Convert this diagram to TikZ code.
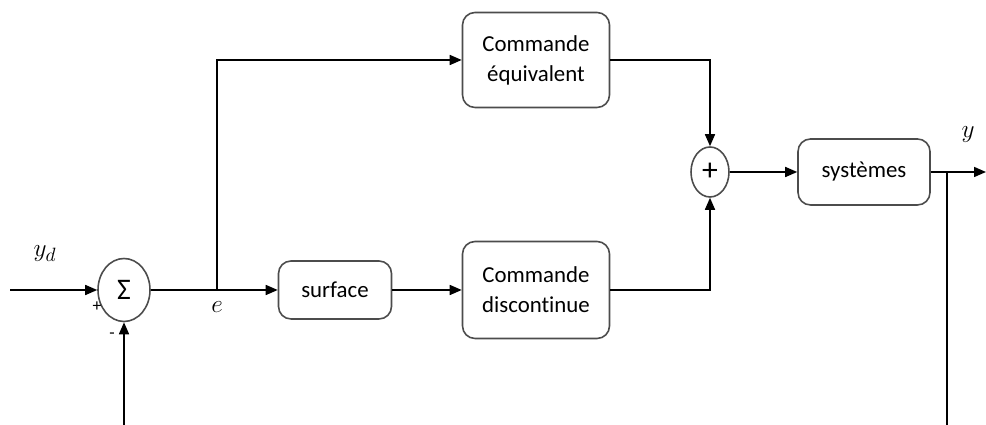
\documentclass[tikz,border=0pt]{standalone}
\usepackage{fontspec}
\setmainfont[Ligatures=NoCommon]{Carlito}
\usepackage{tikz}
\usetikzlibrary{shapes.geometric, arrows.meta, positioning, calc}

\begin{document}
\begin{tikzpicture}[
        box/.style={draw=black!70, line width=0.9pt, rectangle, rounded corners=0.25cm, align=center, fill=white, font=\fontsize{13}{17}\selectfont},
        sumnode/.style={draw=black!70, line width=0.9pt, ellipse, inner sep=0pt},
        arrow/.style={-{Triangle[length=0.24cm, width=0.2cm]}, line width=0.9pt},
        wire/.style={line width=0.9pt},
        lbl/.style={font=\fontsize{15}{18}\selectfont}
    ]
        \useasboundingbox (0,0) rectangle (19.72,8.5);

        % Comparateur et blocs
        \node[sumnode, minimum width=1.04cm, minimum height=1.26cm] (sum) at (2.48,2.7) {\fontsize{17}{18}\selectfont Σ};
        \node[box, minimum width=2.26cm, minimum height=1.16cm] (surf) at (6.7,2.7) {surface};
        \node[box, minimum width=2.94cm, minimum height=1.94cm] (cd) at (10.72,2.7) {Commande\\discontinue};
        \node[box, minimum width=2.94cm, minimum height=1.9cm] (ce) at (10.72,7.3) {Commande\\équivalent};
        \node[sumnode, minimum width=0.76cm, minimum height=1.0cm] (plus) at (14.2,5.06) {\fontsize{18}{18}\selectfont +};
        \node[box, minimum width=2.64cm, minimum height=1.32cm] (sys) at (17.28,5.06) {systèmes};

        % Points auxiliaires
        \coordinate (in) at (0.2,2.7);
        \coordinate (fb) at (2.48,0);
        \coordinate (br) at (4.34,2.7);
        \coordinate (out) at (19.72,5.06);
        \coordinate (tap) at (18.94,5.06);
        \coordinate (tapend) at (18.94,0);

        % Etiquettes
        \node[lbl] (yd) at (0.9,3.42) {$y_d$};
        \node[lbl] (err) at (4.34,2.36) {$e$};
        \node[lbl] (yout) at (19.36,5.8) {$y$};
        \node[font=\normalsize] (pl) at (1.94,2.36) {+};
        \node[font=\normalsize] (mi) at (2.24,1.78) {-};

        % Connexions
        \draw[arrow] (in) -- (sum.west);
        \draw[arrow] (fb) -- (sum.south);
        \draw[arrow] (sum.east) -- (surf.west);
        \draw[arrow] (br) |- (ce.west);
        \draw[arrow] (surf.east) -- (cd.west);
        \draw[arrow] (ce.east) -| (plus.north);
        \draw[arrow] (cd.east) -| (plus.south);
        \draw[arrow] (plus.east) -- (sys.west);
        \draw[arrow] (sys.east) -- (out);
        \draw[wire] (tap) -- (tapend);
    \end{tikzpicture}
\end{document}
